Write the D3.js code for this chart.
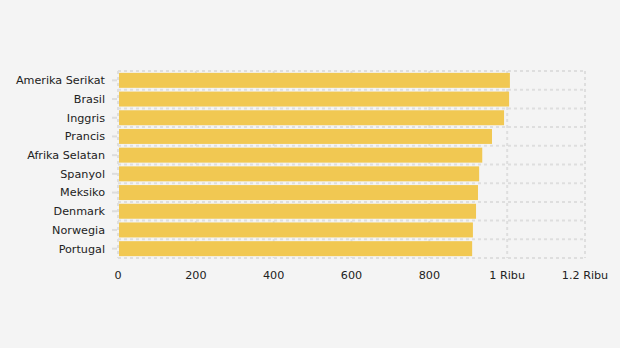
<!DOCTYPE html>
<style>
  body{margin:0;background:#f4f4f4;}
  svg text{font-family:"DejaVu Sans",Verdana,sans-serif;font-size:11.2px;fill:#222;}
</style>
<svg id='chart'></svg>
<script src="https://d3js.org/d3.v7.min.js"></script>
<script>
var width = 620,
    height = 348,
    margin = {top: 71, right: 35, bottom: 90, left: 118}

var countries = ['Amerika Serikat', 'Brasil', 'Inggris', 'Prancis', 'Afrika Selatan', 'Spanyol', 'Meksiko', 'Denmark', 'Norwegia', 'Portugal']
var values = [1007, 1005, 992, 961, 936, 928, 925, 920, 912, 910]
var ticks = [0, 200, 400, 600, 800, 1000, 1200]
var tickLabels = ['0', '200', '400', '600', '800', '1 Ribu', '1.2 Ribu']

var svg = d3.select('#chart')
  .attr('width', width)
  .attr('height', height)

svg.append('rect').attr('width', width).attr('height', height).attr('fill', '#f4f4f4')

var x = d3.scaleLinear().domain([0, 1200]).range([margin.left, 585])
var y = d3.scaleBand().domain(countries).range([margin.top, 258]).paddingInner(0.2).paddingOuter(0.1)

var grid = svg.append('g')
  .attr('stroke', '#dedede')
  .attr('stroke-width', 2)
  .attr('stroke-dasharray', '3,3')

// horizontal grid lines at band edges
var step = y.step()
var edges = d3.range(countries.length + 1).map((i) => margin.top + i * step)
grid.selectAll('.h').data(edges).enter().append('line')
  .attr('x1', margin.left).attr('x2', x(1200))
  .attr('y1', (d) => d).attr('y2', (d) => d)

grid.selectAll('.v').data(ticks).enter().append('line')
  .attr('x1', (d) => x(d)).attr('x2', (d) => x(d))
  .attr('y1', margin.top).attr('y2', 258)

svg.selectAll('.bar').data(values).enter().append('rect')
  .attr('x', x(0) + 1)
  .attr('y', (d, i) => y(countries[i]))
  .attr('width', (d) => x(d) - x(0) - 1)
  .attr('height', y.bandwidth())
  .attr('fill', '#f1c852')

// y axis labels and ticks
var ya = svg.append('g')
ya.selectAll('line').data(countries).enter().append('line')
  .attr('x1', 112).attr('x2', 117)
  .attr('y1', (d) => y(d) + y.bandwidth() / 2).attr('y2', (d) => y(d) + y.bandwidth() / 2)
  .attr('stroke', '#ddd').attr('stroke-width', 2)
ya.selectAll('text').data(countries).enter().append('text')
  .attr('x', 105)
  .attr('y', (d) => y(d) + y.bandwidth() / 2)
  .attr('dy', '0.35em')
  .attr('text-anchor', 'end')
  .text((d) => d)

svg.append('g').selectAll('text').data(ticks).enter().append('text')
  .attr('x', (d) => x(d))
  .attr('y', 279)
  .attr('text-anchor', 'middle')
  .text((d, i) => tickLabels[i])
</script>
